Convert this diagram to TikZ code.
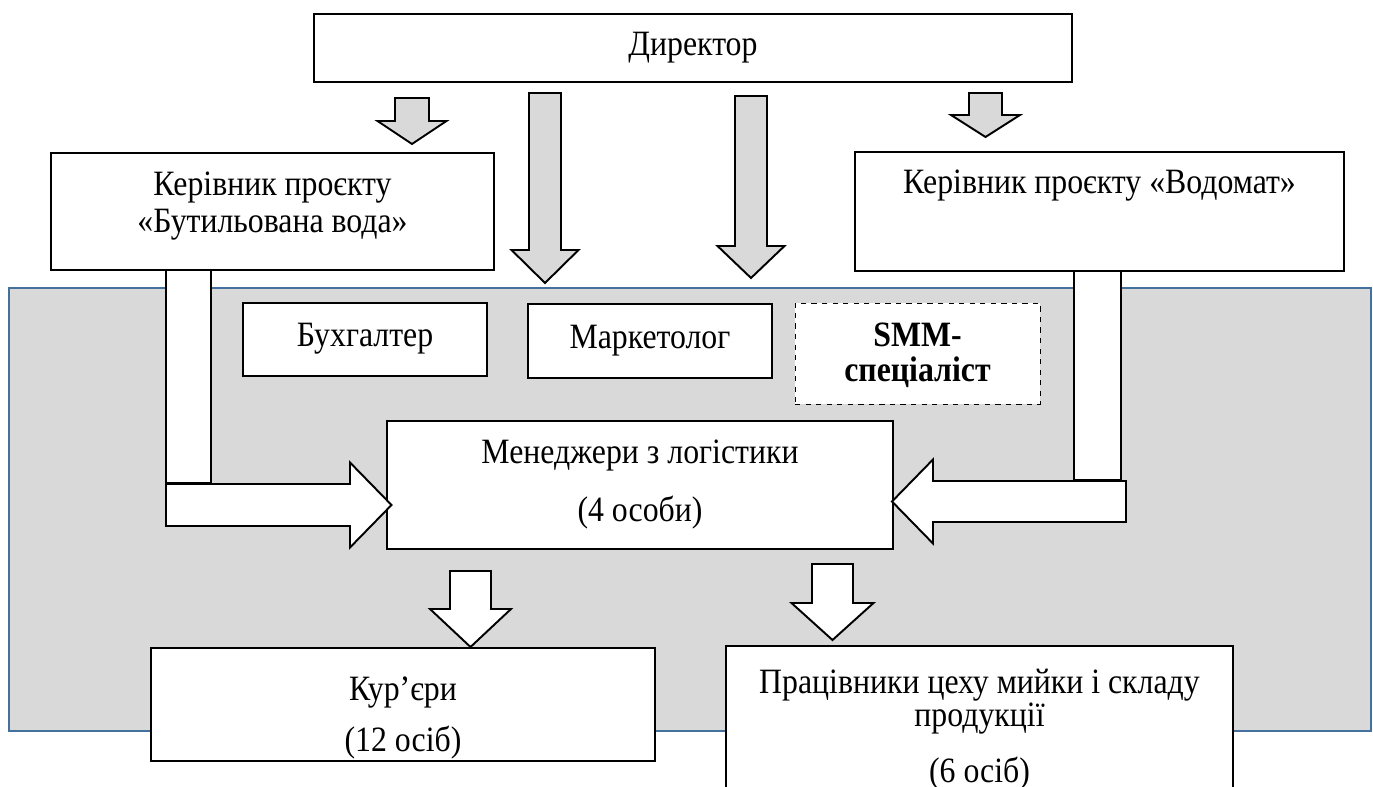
\documentclass[tikz,border=0pt]{standalone}
\usepackage{graphicx}
\usepackage{fontspec}
\setmainfont{Liberation Serif}
\usetikzlibrary{fit}
\definecolor{panelgray}{RGB}{217,217,217}
\definecolor{panelblue}{RGB}{65,113,156}
% block arrows: centre, top, shoulder, tip, half shaft, half head, fill
\newcommand{\dnarrow}[7]{%
  \draw[blockarrow,fill=#7] ({#1-#5},#2) -- ({#1+#5},#2) -- ({#1+#5},#3) -- ({#1+#6},#3) -- (#1,#4) -- ({#1-#6},#3) -- ({#1-#5},#3) -- cycle;}
% sideways: start, centre, head base, tip, half shaft, half head
\newcommand{\sidearrow}[6]{%
  \draw[blockarrow,fill=white] (#1,{#2-#5}) -- (#3,{#2-#5}) -- (#3,{#2-#6}) -- (#4,#2) -- (#3,{#2+#6}) -- (#3,{#2+#5}) -- (#1,{#2+#5}) -- cycle;}
\newcommand{\tall}[1]{\scalebox{1}[1.12]{#1}}
\begin{document}
\begin{tikzpicture}[x=0.02cm,y=-0.02cm,
    box/.style={draw,fill=white,line width=0.7pt,inner sep=0pt},
    dashbox/.style={box,dashed,line width=0.5pt},
    panelbox/.style={draw=panelblue,fill=panelgray,line width=1pt,inner sep=0pt},
    blockarrow/.style={draw,line width=1.1pt,line join=miter},
    txt/.style={anchor=base,inner sep=0pt,font=\fontsize{18.1}{21}\selectfont}]
    \useasboundingbox (0,0) rectangle (1373,787);
    \clip (0,0) rectangle (1373,787);
    \node[panelbox,fit={(9,288) (1371,731)}] (panel) {};
    \node[box,fit={(314,14) (1072,82)}] (dir) {};
    \node[box,fit={(51,153) (494,270)}] (bottlelead) {};
    \node[box,fit={(855,152) (1344,271)}] (vodolead) {};
    \node[box,fit={(243,303) (487,376)}] (acct) {};
    \node[box,fit={(528,304) (772,378)}] (mkt) {};
    \node[dashbox,fit={(795,303) (1040,404)}] (smm) {};
    \node[box,fit={(387,421) (893,549)}] (logist) {};
    \node[box,fit={(151,648) (655,761)}] (courier) {};
    \node[box,fit={(726,646) (1233,820)}] (workers) {};
    % arrows from the director
    \dnarrow{412}{98}{121}{144}{17}{34.5}{panelgray}
    \dnarrow{545}{93}{250}{283}{16}{33.5}{panelgray}
    \dnarrow{751}{96}{246}{278}{16}{33.5}{panelgray}
    \dnarrow{985.5}{93}{115}{137}{16.5}{34.5}{panelgray}
    % project leads to logistics
    \draw[blockarrow,fill=white] (166,270) rectangle (211,483);
    \sidearrow{166}{505}{350}{391.5}{21}{42.5}
    \draw[blockarrow,fill=white] (1074,271) rectangle (1121,480);
    \sidearrow{1126}{501.5}{933}{892}{20.5}{42}
    % logistics to staff
    \dnarrow{470.5}{571}{609}{647}{20.5}{40.5}{white}
    \dnarrow{832.5}{564}{603}{640}{20.5}{41}{white}
    % texts
    \node[txt] (dirlbl) at (693,56) {\tall{Директор}};
    \node[txt] (bottlelbl) at (272.5,196) {\tall{Керівник проєкту}};
    \node[txt] (bottlelblb) at (272.5,233) {\tall{«Бутильована вода»}};
    \node[txt] (vodolbl) at (1099.5,194) {\tall{Керівник проєкту «Водомат»}};
    \node[txt] (acctlbl) at (365,346) {\tall{Бухгалтер}};
    \node[txt] (mktlbl) at (650,348) {\tall{Маркетолог}};
    \node[txt,font=\fontsize{18.1}{21}\selectfont\bfseries] (smmlbl) at (917.5,346) {\tall{SMM-}};
    \node[txt,font=\fontsize{18.1}{21}\selectfont\bfseries] (smmlblb) at (917.5,381) {\tall{спеціаліст}};
    \node[txt] (logistlbl) at (640,463) {\tall{Менеджери з логістики}};
    \node[txt] (logistlblb) at (640,521) {\tall{(4 особи)}};
    \node[txt] (courierlbl) at (403,700) {\tall{Кур’єри}};
    \node[txt] (courierlblb) at (403,751) {\tall{(12 осіб)}};
    \node[txt] (workerslbl) at (979.5,693) {\tall{Працівники цеху мийки і складу}};
    \node[txt] (workerslblb) at (979.5,726) {\tall{продукції}};
    \node[txt] (workerslblc) at (979.5,782) {\tall{(6 осіб)}};
\end{tikzpicture}
\end{document}
